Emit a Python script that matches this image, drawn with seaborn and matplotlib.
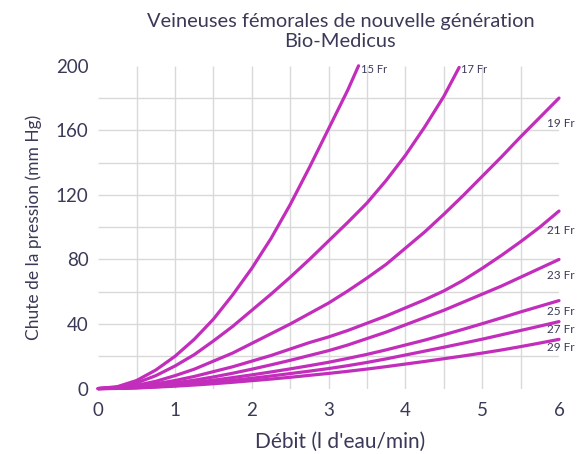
import numpy as np
import pandas as pd
import matplotlib
matplotlib.use("Agg")
import matplotlib.pyplot as plt
import seaborn as sns

# values (debit in l/min, chute in mm Hg)
sizes = ["15 Fr", "17 Fr", "19 Fr", "21 Fr", "23 Fr", "25 Fr", "27 Fr", "29 Fr"]
x_full = [0, 0.25, 0.5, 0.75, 1, 1.25, 1.5, 1.75, 2, 2.25, 2.5, 2.75, 3,
          3.25, 3.5, 3.75, 4, 4.25, 4.5, 4.75, 5, 5.25, 5.5, 5.75, 6]
x_15 = x_full[:14] + [3.39]
x_17 = x_full[:19] + [4.7]
fr15 = [0, 1.2, 5, 11.5, 20, 30.5, 43, 58, 74.5, 93, 114, 137, 161, 185, 200]
fr17 = [0, 0.8, 3.5, 8, 14, 21, 29.5, 38.5, 48.5, 58.5, 69, 80, 91.5, 103,
        115, 129, 144.5, 162, 181, 199]
fr19 = [0, 0.4, 2, 4.5, 8, 12, 17, 22, 28, 34, 40, 46.5, 53, 60.5, 68.5, 77,
        87, 97, 108, 119.5, 131.5, 143.5, 156, 168, 180]
fr21 = [0, 0.3, 1.3, 3, 5, 7.5, 10.5, 13.5, 17, 20.5, 24.5, 28.5, 32, 36,
        40.5, 45, 50, 55, 60.5, 67, 74.5, 82.5, 91, 100, 110]
fr23 = [0, 0.2, 0.9, 2, 3.5, 5.2, 7.2, 9.5, 12, 14.7, 17.5, 20.5, 23.5, 27,
        31, 35, 39.5, 44, 48.5, 53.5, 58.5, 63.5, 69, 74.5, 80]
fr25 = [0, 0.15, 0.7, 1.5, 2.6, 3.8, 5.2, 6.8, 8.5, 10.3, 12.2, 14.2, 16.3,
        18.7, 21.2, 24, 27, 30, 33.3, 36.7, 40.2, 43.8, 47.5, 51, 54.5]
fr27 = [0, 0.1, 0.5, 1.1, 1.9, 2.8, 3.9, 5.1, 6.4, 7.8, 9.3, 10.8, 12.4,
        14.2, 16.2, 18.4, 20.8, 23.2, 25.6, 28.1, 30.6, 33.3, 36, 38.7, 41.5]
fr29 = [0, 0.1, 0.4, 0.9, 1.5, 2.2, 3, 3.9, 4.9, 5.9, 7, 8.2, 9.4, 10.7,
        12.1, 13.6, 15.2, 16.8, 18.5, 20.2, 22, 23.9, 26, 28.2, 30.5]

xs = [x_15, x_17] + [x_full] * 6
ys = [fr15, fr17, fr19, fr21, fr23, fr25, fr27, fr29]

rows = []
for name, xx, yy in zip(sizes, xs, ys):
    for a, b in zip(xx, yy):
        rows.append({"debit": a, "chute": b, "taille": name})
df = pd.DataFrame(rows)

line_col = "#C22DBB"
text_col = "#3a3a58"
grid_col = "#d9d9d9"

sns.set_style("white")
plt.rcParams["font.family"] = ["Lato", "DejaVu Sans"]

fig = plt.figure(figsize=(5.77, 4.54), dpi=100)
ax = fig.add_axes([0.1702, 0.1441, 0.7986, 0.7110])

# grid only between the limits, like the reference
ax.vlines(np.arange(0.5, 6, 0.5), 0, 200, color=grid_col, lw=1, zorder=0)
ax.hlines(np.arange(20, 200, 20), 0, 6, color=grid_col, lw=1, zorder=0)

sns.lineplot(data=df, x="debit", y="chute", hue="taille", estimator=None,
             sort=False, palette={s: line_col for s in sizes}, legend=False,
             linewidth=2.3, clip_on=False, ax=ax)

ax.set_xlim(0, 6)
ax.set_ylim(0, 200)
ax.set_xticks(range(0, 7))
ax.set_yticks(range(0, 201, 40))
ax.tick_params(length=0, labelsize=13.5, labelcolor=text_col)
ax.tick_params(axis="x", pad=10)
ax.tick_params(axis="y", pad=7)
for s in ax.spines.values():
    s.set_visible(False)

ax.set_xlabel("Débit (l d'eau/min)", fontsize=15, color=text_col)
ax.xaxis.set_label_coords(0.525, -0.135)
ax.set_ylabel("Chute de la pression (mm Hg)", fontsize=12.5, color=text_col, labelpad=10)

# series labels
drops = {"19 Fr": 16, "21 Fr": 12, "23 Fr": 10, "25 Fr": 7, "27 Fr": 5, "29 Fr": 5}
for name, xx, yy in zip(sizes, xs, ys):
    if yy[-1] >= 199:
        ax.text(xx[-1] + 0.03, 198, name, fontsize=8, color=text_col,
                ha="left", va="center")
    else:
        ax.text(5.84, yy[-1] - drops[name], name, fontsize=8.5, color=text_col,
                ha="left", va="center")

fig.text(0.59, 0.972, "Veineuses fémorales de nouvelle génération\nBio-Medicus",
         ha="center", va="top", fontsize=14.4, color=text_col, linespacing=1.2)

fig.savefig("out.png", dpi=100)
